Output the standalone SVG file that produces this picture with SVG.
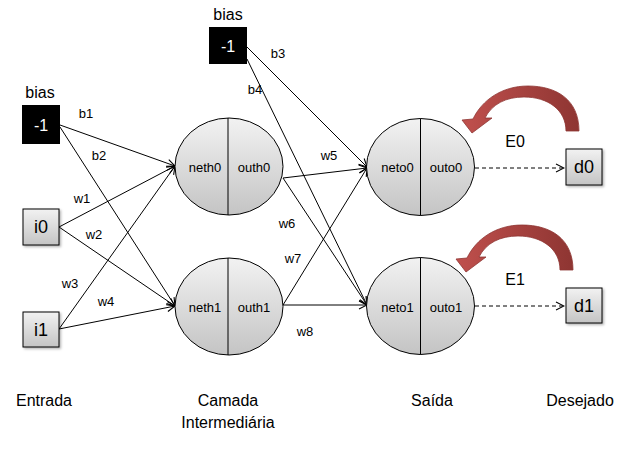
<svg xmlns="http://www.w3.org/2000/svg" width="637" height="452" viewBox="0 0 637 452">
<defs>
<linearGradient id="gb" x1="0" y1="0" x2="0" y2="1"><stop offset="0" stop-color="#f2f2f2"/><stop offset="1" stop-color="#c4c4c4"/></linearGradient>
<linearGradient id="gr" x1="0" y1="0" x2="1" y2="0"><stop offset="0" stop-color="#c0504d"/><stop offset="1" stop-color="#8e3532"/></linearGradient>
<marker id="ah" markerWidth="10" markerHeight="10" refX="9" refY="5" orient="auto" markerUnits="userSpaceOnUse"><path d="M1,1 L9,5 L1,9" fill="none" stroke="#000" stroke-width="1.1"/></marker>
<filter id="sh" x="-20%" y="-20%" width="150%" height="150%"><feDropShadow dx="1.5" dy="1.5" stdDeviation="1" flood-color="#000" flood-opacity="0.3"/></filter>
</defs>
<style>
text{font-family:"Liberation Sans","DejaVu Sans",sans-serif;text-anchor:middle;dominant-baseline:central;fill:#000}
.lbl{font-size:13px}
.big{font-size:18px}
.ttl{font-size:16px}
.box{fill:url(#gb);stroke:#000;stroke-width:1;filter:url(#sh)}
.blk{fill:#000}
.wt{fill:#fff;font-size:16px}
.cir{fill:url(#gb);stroke:#000;stroke-width:1}
.ln{stroke:#000;stroke-width:1;fill:none;marker-end:url(#ah)}
.dash{stroke:#000;stroke-width:1;fill:none;stroke-dasharray:4,3;marker-end:url(#ah)}
.red{fill:url(#gr);stroke:#8e3532;stroke-width:0.8}
</style>
<g id="connectors">
<line class="ln" x1="60" y1="125" x2="175" y2="166"/>
<line class="ln" x1="60" y1="127" x2="175" y2="306"/>
<line class="ln" x1="59" y1="227" x2="175" y2="166"/>
<line class="ln" x1="59" y1="227" x2="175" y2="306"/>
<line class="ln" x1="59" y1="329" x2="175" y2="166"/>
<line class="ln" x1="59" y1="329" x2="175" y2="306"/>
<line class="ln" x1="247" y1="47" x2="367" y2="167"/>
<line class="ln" x1="247" y1="59" x2="367" y2="305"/>
<line class="ln" x1="283" y1="178" x2="367" y2="168"/>
<line class="ln" x1="283" y1="178" x2="367" y2="305"/>
<line class="ln" x1="283" y1="305" x2="367" y2="168"/>
<line class="ln" x1="283" y1="305" x2="367" y2="305"/>
<line class="dash" x1="475" y1="168" x2="564" y2="168"/>
<line class="dash" x1="475" y1="306" x2="564" y2="306"/>
</g>
<g id="labels" class="lbl">
<text x="86" y="113" class="lbl">b1</text>
<text x="99" y="155" class="lbl">b2</text>
<text x="278" y="53" class="lbl">b3</text>
<text x="255" y="89" class="lbl">b4</text>
<text x="82" y="198" class="lbl">w1</text>
<text x="94" y="234" class="lbl">w2</text>
<text x="70" y="283" class="lbl">w3</text>
<text x="106" y="301" class="lbl">w4</text>
<text x="329" y="155" class="lbl">w5</text>
<text x="287" y="223" class="lbl">w6</text>
<text x="293" y="258" class="lbl">w7</text>
<text x="305" y="331" class="lbl">w8</text>
</g>
<g id="bias0">
<text x="40" y="92" class="ttl">bias</text>
<rect class="blk" x="22" y="105" width="38" height="39"/>
<text x="41" y="125" class="wt">-1</text>
</g>
<g id="bias1">
<text x="228" y="14" class="ttl">bias</text>
<rect class="blk" x="209" y="27" width="38" height="37"/>
<text x="228" y="46" class="wt">-1</text>
</g>
<g id="i0">
<rect class="box" x="23" y="209" width="36" height="36"/>
<text x="41" y="227" class="big">i0</text>
</g>
<g id="i1">
<rect class="box" x="23" y="312" width="36" height="35"/>
<text x="41" y="330" class="big">i1</text>
</g>
<g id="h0">
<ellipse class="cir" cx="229" cy="166.5" rx="54" ry="48.5"/>
<line x1="228" y1="118" x2="228" y2="215" stroke="#000"/>
<text x="205" y="167" class="lbl">neth0</text>
<text x="254" y="167" class="lbl">outh0</text>
</g>
<g id="h1">
<ellipse class="cir" cx="229" cy="306.5" rx="54" ry="48.5"/>
<line x1="228" y1="258" x2="228" y2="355" stroke="#000"/>
<text x="205" y="307" class="lbl">neth1</text>
<text x="254" y="307" class="lbl">outh1</text>
</g>
<g id="o0">
<ellipse class="cir" cx="420.5" cy="167" rx="54" ry="48.5"/>
<line x1="420.5" y1="118.5" x2="420.5" y2="215.5" stroke="#000"/>
<text x="397.5" y="167" class="lbl">neto0</text>
<text x="446" y="167" class="lbl">outo0</text>
</g>
<g id="o1">
<ellipse class="cir" cx="420.5" cy="306" rx="54" ry="48.5"/>
<line x1="420.5" y1="257.5" x2="420.5" y2="354.5" stroke="#000"/>
<text x="397.5" y="307" class="lbl">neto1</text>
<text x="446" y="307" class="lbl">outo1</text>
</g>
<g id="d0">
<rect class="box" x="566" y="149" width="36" height="36"/>
<text x="584" y="167" class="big">d0</text>
</g>
<g id="d1">
<rect class="box" x="566" y="288" width="36" height="35"/>
<text x="584" y="306" class="big">d1</text>
</g>
<g id="e0">
<path class="red" d="M579,131 C579,100 557,86 528,86 C502,86 482,100 473,119 L462,120 L472,133 L492,118 L485,118 C492,104 506,97 524,97 C548,97 566,110 566,131 Z"/>
<text x="515" y="141" class="ttl">E0</text>
</g>
<g id="e1">
<path class="red" transform="translate(-6,139)" d="M579,131 C579,100 557,86 528,86 C502,86 482,100 473,119 L462,120 L472,133 L492,118 L485,118 C492,104 506,97 524,97 C548,97 566,110 566,131 Z"/>
<text x="515" y="279" class="ttl">E1</text>
</g>
<g id="footer">
<text x="44" y="400" class="ttl">Entrada</text>
<text x="228" y="400" class="ttl">Camada</text>
<text x="228" y="422" class="ttl">Intermediária</text>
<text x="432" y="400" class="ttl">Saída</text>
<text x="580" y="400" class="ttl">Desejado</text>
</g>
</svg>
